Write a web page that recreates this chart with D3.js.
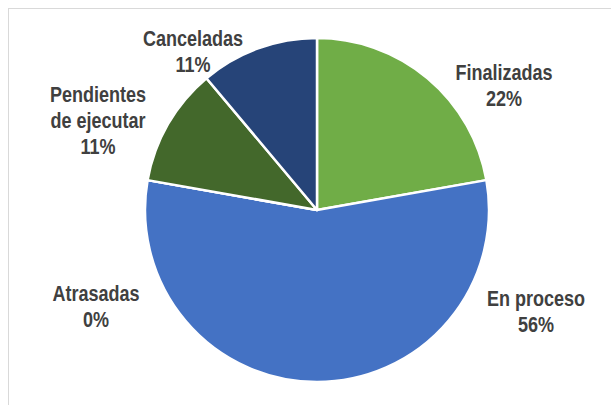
<!DOCTYPE html>
<html>
<head>
<meta charset="utf-8">
<script src="https://cdn.jsdelivr.net/npm/d3@7"></script>
<style>
  html, body { margin: 0; padding: 0; background: #fff; }
  svg { display: block; }
  .lbl { font-family: "Liberation Sans", Arial, sans-serif; font-weight: bold; font-size: 22px; fill: #404040; }
</style>
</head>
<body>
<svg id="chart" width="611" height="405"></svg>
<script>
// Data
const categories = ["Finalizadas", "En proceso", "Atrasadas", "Pendientes de ejecutar", "Canceladas"];
const labelLines = [["Finalizadas"], ["En proceso"], ["Atrasadas"], ["Pendientes", "de ejecutar"], ["Canceladas"]];
const values = [2, 5, 0, 1, 1];
const colors = ["#70AD47", "#4472C4", "#A5A5A5", "#43682B", "#264478"];

// Layout (label anchors relative to pie centre: x centre, first baseline)
const W = 611, H = 405;
const cx = 317, cy = 210, R = 172;
const labelOffsets = [[187, -130], [219, 96], [-221, 91], [-219, -108], [-124, -164]];
const lineH = 26;
const narrow = 0.82; // emulate a condensed face

const svg = d3.select("#chart");

// chart area border
svg.append("rect")
  .attr("x", 8.5).attr("y", 8.5)
  .attr("width", W + 20).attr("height", H + 20)
  .attr("fill", "#fff").attr("stroke", "#D9D9D9").attr("stroke-width", 1);

const total = d3.sum(values);
const pie = d3.pie().sort(null).value(d => d)(values);
const arc = d3.arc().innerRadius(0).outerRadius(R);

const g = svg.append("g").attr("transform", `translate(${cx},${cy})`);

g.selectAll("path.slice")
  .data(pie)
  .join("path")
  .attr("class", "slice")
  .attr("d", arc)
  .attr("fill", (d, i) => colors[i])
  .attr("stroke", "#fff")
  .attr("stroke-width", 2.5)
  .attr("stroke-linejoin", "round");

const pct = d3.format(".0%");

const labels = g.selectAll("text.lbl")
  .data(pie)
  .join("text")
  .attr("class", "lbl")
  .attr("text-anchor", "middle")
  .attr("transform", (d, i) => `translate(${labelOffsets[i][0]},${labelOffsets[i][1]}) scale(${narrow},1)`);

labels.each(function(d, i) {
  const t = d3.select(this);
  const lines = labelLines[i].concat([pct(values[i] / total)]);
  lines.forEach((s, k) => {
    t.append("tspan").attr("x", 0).attr("y", k * lineH).text(s);
  });
});
</script>
</body>
</html>
